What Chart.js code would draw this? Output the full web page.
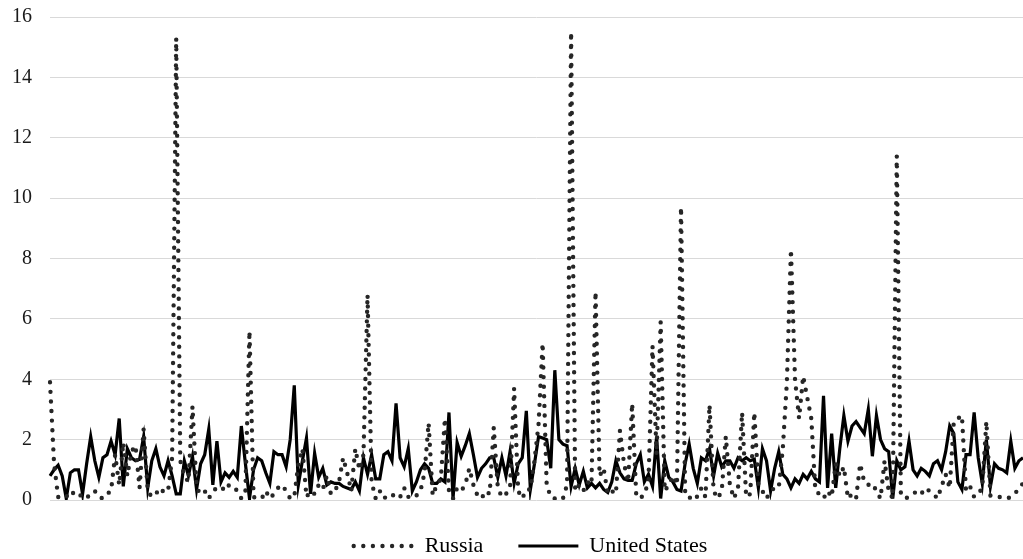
<!DOCTYPE html>
<html>
<head>
<meta charset="utf-8">
<script src="https://cdn.jsdelivr.net/npm/chart.js@4.4.1/dist/chart.umd.min.js"></script>
<style>
  html, body { margin: 0; padding: 0; background: #ffffff; }
  #wrap { position: relative; width: 1023px; height: 559px; }
</style>
</head>
<body>
<div id="wrap"><canvas id="c"></canvas></div>
<script>
const seriesNames = ["Russia", "United States"];
const yTicks = [0, 2, 4, 6, 8, 10, 12, 14, 16];

const russia = [
  3.9, 1.2, 0.1, 0.05, 0.1, 0.3, 0.2, 0.25, 0.05, 0.1,
  0.15, 0.3, 0.1, 0.05, 0.2, 0.3, 1.5, 0.5, 1.9, 0.8,
  1.6, 1.8, 0.4, 2.35, 0.3, 0.1, 0.2, 0.4, 0.25, 0.3,
  1.4, 15.3, 1.3, 0.8, 0.6, 3.1, 0.4, 0.2, 0.3, 0.05,
  0.3, 0.4, 0.45, 0.3, 0.5, 0.45, 0.3, 0.05, 0.3, 5.6,
  0.1, 0.05, 0.05, 0.3, 0.05, 0.2, 0.4, 0.5, 0.3, 0.05,
  0.1, 1.2, 1.7, 0.1, 0.3, 0.2, 0.5, 0.35, 0.8, 0.2,
  0.3, 0.6, 1.4, 0.9, 0.3, 1.7, 1.0, 1.5, 6.8, 0.6,
  0.05, 0.3, 0.05, 0.15, 0.2, 0.05, 0.1, 0.4, 0.1, 0.2,
  0.15, 0.3, 0.9, 2.55, 0.15, 0.5, 0.7, 2.7, 0.3, 0.05,
  0.4, 0.3, 0.5, 1.05, 0.5, 0.15, 0.05, 0.3, 0.2, 2.4,
  0.4, 0.1, 0.2, 0.4, 3.7, 0.3, 0.05, 0.35, 0.35, 1.3,
  2.5, 5.2, 0.5, 0.1, 0.05, 0.1, 0.05, 0.5, 15.5, 0.3,
  0.5, 0.3, 0.6, 0.5, 6.9, 0.8, 1.05, 0.2, 0.3, 0.2,
  2.3, 1.2, 0.6, 3.2, 0.15, 0.05, 0.2, 0.6, 5.1, 1.5,
  5.9, 0.3, 0.5, 0.8, 0.5, 9.7, 0.3, 0.05, 0.2, 0.1,
  0.4, 0.1, 3.15, 0.3, 0.05, 0.3, 2.1, 0.5, 0.05, 0.4,
  2.9, 0.1, 0.2, 2.9, 0.5, 0.3, 0.05, 0.3, 0.4, 0.4,
  1.7, 3.9, 8.3, 4.0, 2.7, 4.1, 3.4, 2.7, 0.3, 0.2,
  0.05, 0.3, 0.1, 1.2, 0.8, 1.1, 0.05, 0.2, 0.05, 1.2,
  0.6, 0.5, 0.55, 0.3, 0.05, 1.3, 0.3, 0.05, 11.4, 0.2,
  0.05, 0.1, 0.2, 0.3, 0.2, 0.4, 0.3, 0.2, 0.05, 0.45,
  0.85, 0.4, 2.6, 2.7, 2.8, 0.3, 0.45, 0.1, 0.2, 0.4,
  2.6, 0.15, 0.1, 0.1, 0.1, 0.05, 0.1, 0.2, 0.4, 0.55
];

const unitedStates = [
  0.8, 1.0, 1.15, 0.8, 0.05, 0.9, 1.0, 1.0, 0.2, 1.2,
  2.1, 1.3, 0.75, 1.4, 1.5, 1.95, 1.5, 2.7, 0.45, 1.7,
  1.4, 1.3, 1.35, 2.1, 0.4, 1.3, 1.7, 1.1, 0.8, 1.3,
  0.8, 0.2, 0.2, 1.3, 0.8, 1.45, 0.35, 1.2, 1.5, 2.35,
  0.5, 1.95, 0.6, 0.9, 0.75, 0.95, 0.75, 2.45, 1.2, 0.05,
  1.0, 1.4, 1.3, 0.9, 0.55, 1.6, 1.5, 1.5, 1.1, 2.0,
  3.8, 0.5, 1.3, 2.05, 0.2, 1.55, 0.75, 1.05, 0.5, 0.6,
  0.55, 0.55, 0.45, 0.4, 0.35, 0.6, 0.3, 1.4, 0.85, 1.5,
  0.7, 0.7, 1.5, 1.6, 1.3, 3.2, 1.4, 1.1, 1.7, 0.3,
  0.6, 1.0, 1.2, 1.05, 0.55, 0.55, 0.7, 0.6, 2.9, 0.05,
  1.9, 1.45, 1.8, 2.2, 1.5, 0.75, 1.05, 1.2, 1.4, 1.4,
  0.75, 1.4, 0.8, 1.6, 0.55, 1.2, 1.4, 2.95, 0.35, 1.2,
  2.1, 2.05, 2.0, 1.05, 4.3, 2.0, 1.85, 1.8, 0.45, 1.05,
  0.5, 0.95, 0.4, 0.55, 0.4, 0.55, 0.35, 0.25, 0.6, 1.3,
  0.9, 0.7, 0.65, 0.65, 1.2, 1.5, 0.6, 0.85, 0.45, 2.1,
  0.05, 1.3, 0.75, 0.6, 0.35, 0.3, 1.2, 1.85, 1.05, 0.55,
  1.4, 1.3, 1.7, 0.8, 1.55, 1.1, 1.3, 1.3, 1.05, 1.4,
  1.3, 1.4, 1.3, 1.35, 0.4, 1.7, 1.3, 0.3, 1.05, 1.6,
  0.85, 0.7, 0.4, 0.7, 0.55, 0.85, 0.7, 0.95, 0.7, 0.6,
  3.45, 0.4, 2.2, 0.4, 1.7, 2.8, 1.95, 2.45, 2.6, 2.4,
  2.2, 3.0, 1.45, 2.8, 2.0, 1.7, 1.6, 0.05, 1.3, 1.0,
  1.1, 1.95, 1.0, 0.8, 1.05, 0.95, 0.8, 1.2, 1.3, 1.0,
  1.6, 2.45, 2.2, 0.6, 0.35, 1.5, 1.5, 2.9, 1.4, 0.55,
  2.0, 0.45, 1.2, 1.05, 1.0, 0.9, 1.95, 1.05, 1.3, 1.4
];

// category labels (observation numbers, not shown on the axis)
const categories = russia.map((_, i) => String(i + 1));

const serif = "'Liberation Serif', 'Times New Roman', serif";

const legendShift = {
  id: 'legendShift',
  afterLayout(chart) {
    const lg = chart.legend;
    if (lg) { lg.left -= 6; lg.right -= 6; }
  }
};

new Chart(document.getElementById('c'), {
  type: 'line',
  data: {
    labels: categories,
    datasets: [
      {
        label: seriesNames[0],
        data: russia,
        borderColor: '#262626',
        backgroundColor: '#262626',
        borderWidth: 4.4,
        borderDash: [0, 9.6],
        borderCapStyle: 'round',
        pointRadius: 0,
        tension: 0,
        fill: false
      },
      {
        label: seriesNames[1],
        data: unitedStates,
        borderColor: '#000000',
        backgroundColor: '#000000',
        borderWidth: 3.2,
        borderCapStyle: 'butt',
        pointRadius: 0,
        tension: 0,
        fill: false
      }
    ]
  },
  plugins: [legendShift],
  options: {
    responsive: true,
    maintainAspectRatio: false,
    animation: false,
    events: [],
    layout: { padding: { top: 17, right: 0, bottom: -8, left: 0 } },
    plugins: {
      title: { display: false },
      tooltip: { enabled: false },
      legend: {
        display: true,
        position: 'bottom',
        fullSize: false,
        labels: {
          usePointStyle: true,
          pointStyle: 'line',
          pointStyleWidth: 60,
          padding: 35,
          color: '#000000',
          font: { family: serif, size: 22 },
          generateLabels(chart) {
            return chart.data.datasets.map((ds, i) => ({
              text: ds.label,
              datasetIndex: i,
              hidden: false,
              fillStyle: ds.borderColor,
              strokeStyle: ds.borderColor,
              lineWidth: ds.borderWidth,
              lineDash: ds.borderDash || [],
              lineCap: ds.borderCapStyle || 'butt',
              pointStyle: 'line',
              fontColor: '#000000'
            }));
          }
        }
      }
    },
    scales: {
      x: {
        display: false,
        grid: { display: false }
      },
      y: {
        min: 0,
        max: 16,
        afterBuildTicks: (s) => { s.ticks = yTicks.map(v => ({ value: v })); },
        afterFit: (s) => { s.width = 50; s.paddingTop = 10; s.paddingBottom = 10; },
        border: { display: false },
        grid: { color: '#d9d9d9', lineWidth: 1, drawTicks: false },
        ticks: {
          padding: 18,
          color: '#1a1a1a',
          font: { family: serif, size: 20 }
        }
      }
    }
  }
});
</script>
</body>
</html>
